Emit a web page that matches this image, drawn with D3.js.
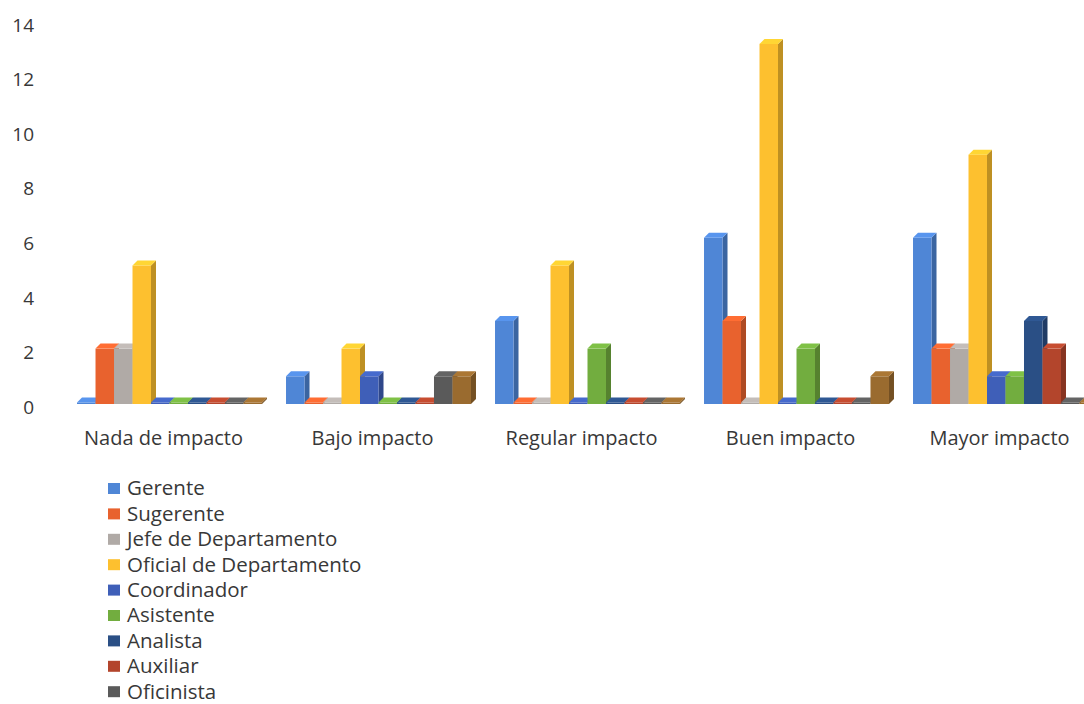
<!DOCTYPE html>
<html>
<head>
<meta charset="utf-8">
<script src="https://cdn.jsdelivr.net/npm/d3@7"></script>
<style>
	body { margin: 0; background: #fff; }
	svg { display: block; }
	text { font-family: "Open Sans", sans-serif; fill: #383838; }
</style>
</head>
<body>
<svg></svg>
<script>
const width = 1084;
const height = 704;

const categories = ['Nada de impacto', 'Bajo impacto', 'Regular impacto', 'Buen impacto', 'Mayor impacto'];
const series = ['Gerente', 'Sugerente', 'Jefe de Departamento', 'Oficial de Departamento', 'Coordinador',
	'Asistente', 'Analista', 'Auxiliar', 'Oficinista', 'Otro'];
const colors = ['#4f86d6', '#e8622e', '#b0aaa6', '#fdc02f', '#3f5fb8',
	'#72ad3f', '#2a4f85', '#b3452c', '#5a5a5a', '#9a6b2f'];
// values per series, one per category
const gerente     = [0, 1, 3, 6, 6];
const sugerente   = [2, 0, 0, 3, 2];
const jefe        = [2, 0, 0, 0, 2];
const oficial     = [5, 2, 5, 13, 9];
const coordinador = [0, 1, 0, 0, 1];
const asistente   = [0, 0, 2, 2, 1];
const analista    = [0, 0, 0, 0, 3];
const auxiliar    = [0, 0, 0, 0, 2];
const oficinista  = [0, 1, 0, 0, 0];
const otro        = [0, 1, 0, 1, 0];
const values = [gerente, sugerente, jefe, oficial, coordinador, asistente, analista, auxiliar, oficinista, otro];
const yTicks = [0, 2, 4, 6, 8, 10, 12, 14];
// legend rows that fit in the picture (the last one is cut off in the original)
const legendShown = 9;

const depth = 5; // fake 3d offset

var svg = d3.select('svg').attr('width', width).attr('height', height);

var x0 = d3.scaleBand().domain(categories).range([65, 1110]).paddingInner(0.115).paddingOuter(0.0575);
var x1 = d3.scaleBand().domain(series).range([0, x0.bandwidth()]);
// bars are drawn on the floor, labels sit on the wall
var yBar = d3.scaleLinear().domain([0, 14]).range([404, 404 - 14*27.7]);
var yWall = d3.scaleLinear().domain([0, 14]).range([407, 25]);

// y axis labels
svg.append('g').selectAll('text').data(yTicks).enter().append('text')
	.attr('x', 34).attr('y', d => yWall(d))
	.attr('dy', '0.35em').attr('text-anchor', 'end')
	.style('font-size', '19px')
	.text(d => d);

// data rows
var data = [];
categories.forEach((c, ci) => {
	series.forEach((s, si) => {
		data.push({cat: c, ser: s, v: values[si][ci], color: colors[si]});
	});
});

var bars = svg.append('g').selectAll('g.bar').data(data).enter().append('g').classed('bar', true);

bars.each(function(d){
	var g = d3.select(this);
	var x = x0(d.cat) + x1(d.ser);
	var w = x1.bandwidth();
	var yb = yBar(0);
	var yt = Math.min(yBar(d.v), yb - 1.5);
	var c = d3.color(d.color);
	// side face
	g.append('path')
		.attr('d', `M${x+w},${yt} L${x+w+depth},${yt-depth} L${x+w+depth},${yb-depth} L${x+w},${yb} Z`)
		.style('fill', c.darker(0.8));
	// front face
	g.append('rect')
		.attr('x', x).attr('y', yt).attr('width', w).attr('height', yb - yt)
		.style('fill', c);
	// top face
	g.append('path')
		.attr('d', `M${x},${yt} L${x+depth},${yt-depth} L${x+w+depth},${yt-depth} L${x+w},${yt} Z`)
		.style('fill', c.brighter(0.3));
});

// category labels
svg.append('g').selectAll('text').data(categories).enter().append('text')
	.attr('x', d => x0(d) + x0.bandwidth()/2 - 6)
	.attr('y', 445)
	.attr('text-anchor', 'middle')
	.style('font-size', '20px')
	.text(d => d);

// legend
var legend = svg.append('g').selectAll('g').data(series.slice(0, legendShown)).enter().append('g')
	.attr('transform', (d, i) => `translate(108,${488 + i*25.4})`);
legend.append('rect')
	.attr('x', 0).attr('y', -5).attr('width', 12).attr('height', 11)
	.style('fill', (d, i) => colors[i]);
legend.append('text')
	.attr('x', 19).attr('y', 0).attr('dy', '0.36em')
	.style('font-size', '20.5px')
	.text(d => d);
</script>
</body>
</html>
